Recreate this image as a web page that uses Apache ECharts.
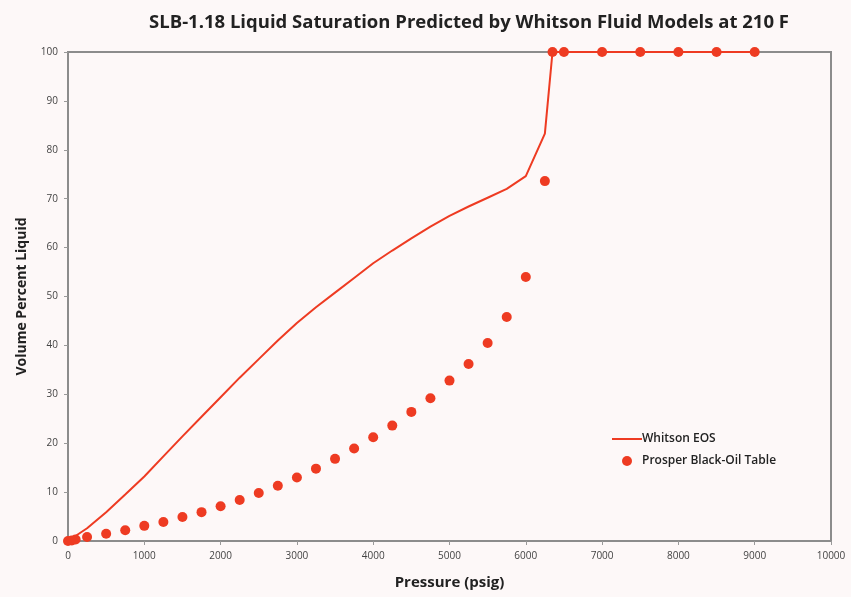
<!DOCTYPE html>
<html>
<head>
<meta charset="utf-8">
<script src="https://cdn.jsdelivr.net/npm/echarts@6/dist/echarts.min.js"></script>
<style>
  html, body { margin: 0; padding: 0; background: #fdf8f8; }
  #chart { width: 851px; height: 597px; }
</style>
</head>
<body>
<div id="chart"></div>
<script>
// Whitson EOS liquid saturation curve: pressure (psig) and volume percent liquid
const eosPressure = [0, 250, 500, 750, 1000, 1250, 1500, 1750, 2000, 2250, 2500, 2750, 3000,
  3250, 3500, 3750, 4000, 4250, 4500, 4750, 5000, 5250, 5500, 5750, 6000, 6250, 6350,
  6500, 7000, 7500, 8000, 8500, 9000];
const eosLiquid = [0, 2.6, 5.9, 9.5, 13.2, 17.3, 21.4, 25.4, 29.4, 33.4, 37.2, 41.0, 44.6,
  47.8, 50.8, 53.8, 56.8, 59.4, 61.9, 64.3, 66.5, 68.4, 70.2, 72.0, 74.6, 83.3, 100,
  100, 100, 100, 100, 100, 100];

// Prosper black-oil table points
const bhoPressure = [0, 50, 100, 250, 500, 750, 1000, 1250, 1500, 1750, 2000, 2250, 2500,
  2750, 3000, 3250, 3500, 3750, 4000, 4250, 4500, 4750, 5000, 5250, 5500, 5750, 6000,
  6250, 6350, 6500, 7000, 7500, 8000, 8500, 9000];
const bhoLiquid = [0, 0.1, 0.3, 0.8, 1.5, 2.2, 3.1, 3.9, 4.9, 5.9, 7.1, 8.4, 9.8,
  11.3, 13.0, 14.8, 16.8, 18.9, 21.2, 23.6, 26.4, 29.2, 32.8, 36.2, 40.5, 45.8, 54.0,
  73.6, 100, 100, 100, 100, 100, 100, 100];

const xTicks = [0, 1000, 2000, 3000, 4000, 5000, 6000, 7000, 8000, 9000, 10000];
const yTicks = [0, 10, 20, 30, 40, 50, 60, 70, 80, 90, 100];

const RED = '#ee3b22';
const FONT = '"Open Sans", "Noto Sans", sans-serif';

const chart = echarts.init(document.getElementById('chart'), null, { renderer: 'canvas' });

chart.setOption({
  backgroundColor: '#fdf8f8',
  animation: false,
  title: {
    text: 'SLB-1.18 Liquid Saturation Predicted by Whitson Fluid Models at 210 F',
    left: 464,
    textAlign: 'center',
    top: 8,
    textStyle: { fontFamily: FONT, fontSize: 18.5, fontWeight: 'bold', color: '#222' }
  },
  legend: {
    orient: 'vertical',
    left: 607,
    top: 428,
    itemWidth: 30,
    itemHeight: 10,
    itemGap: 10,
    textStyle: { fontFamily: FONT, fontSize: 12, fontWeight: 600, color: '#222', padding: [0, 0, 0, -5] },
    data: [
      { name: 'Whitson EOS', icon: 'path://M0,4 L30,4 L30,6 L0,6 Z' },
      { name: 'Prosper Black-Oil Table', icon: 'circle' }
    ]
  },
  grid: {
    left: 68, right: 20, top: 52, bottom: 56,
    show: true, borderColor: '#8c8c8c', borderWidth: 2, backgroundColor: 'transparent'
  },
  xAxis: {
    type: 'value',
    min: xTicks[0], max: xTicks[xTicks.length - 1], interval: 1000,
    name: 'Pressure (psig)',
    nameLocation: 'middle',
    nameGap: 34,
    nameTextStyle: { fontFamily: FONT, fontSize: 15, fontWeight: 'bold', color: '#222' },
    axisLine: { lineStyle: { color: '#8c8c8c', width: 2 } },
    axisTick: { show: true, length: 4, lineStyle: { color: '#999' } },
    axisLabel: { fontFamily: FONT, fontSize: 10, color: '#444', margin: 10,
      formatter: v => String(v) },
    splitLine: { show: false }
  },
  yAxis: {
    type: 'value',
    min: yTicks[0], max: yTicks[yTicks.length - 1], interval: 10,
    name: 'Volume Percent Liquid',
    nameLocation: 'middle',
    nameGap: 39,
    nameRotate: 90,
    nameTextStyle: { fontFamily: FONT, fontSize: 14, fontWeight: 'bold', color: '#222' },
    axisLine: { show: true, lineStyle: { color: '#8c8c8c', width: 2 } },
    axisTick: { show: true, length: 4, lineStyle: { color: '#999' } },
    axisLabel: { fontFamily: FONT, fontSize: 10, color: '#444', margin: 10 },
    splitLine: { show: false }
  },
  series: [
    {
      name: 'Whitson EOS',
      type: 'line',
      data: eosPressure.map((p, i) => [p, eosLiquid[i]]),
      showSymbol: false,
      smooth: false,
      color: RED,
      lineStyle: { color: RED, width: 2 },
      z: 2
    },
    {
      name: 'Prosper Black-Oil Table',
      type: 'scatter',
      data: bhoPressure.map((p, i) => [p, bhoLiquid[i]]),
      symbol: 'circle',
      symbolSize: 10,
      color: RED,
      itemStyle: { color: RED, opacity: 1 },
      clip: false,
      z: 3
    }
  ]
});
</script>
</body>
</html>
